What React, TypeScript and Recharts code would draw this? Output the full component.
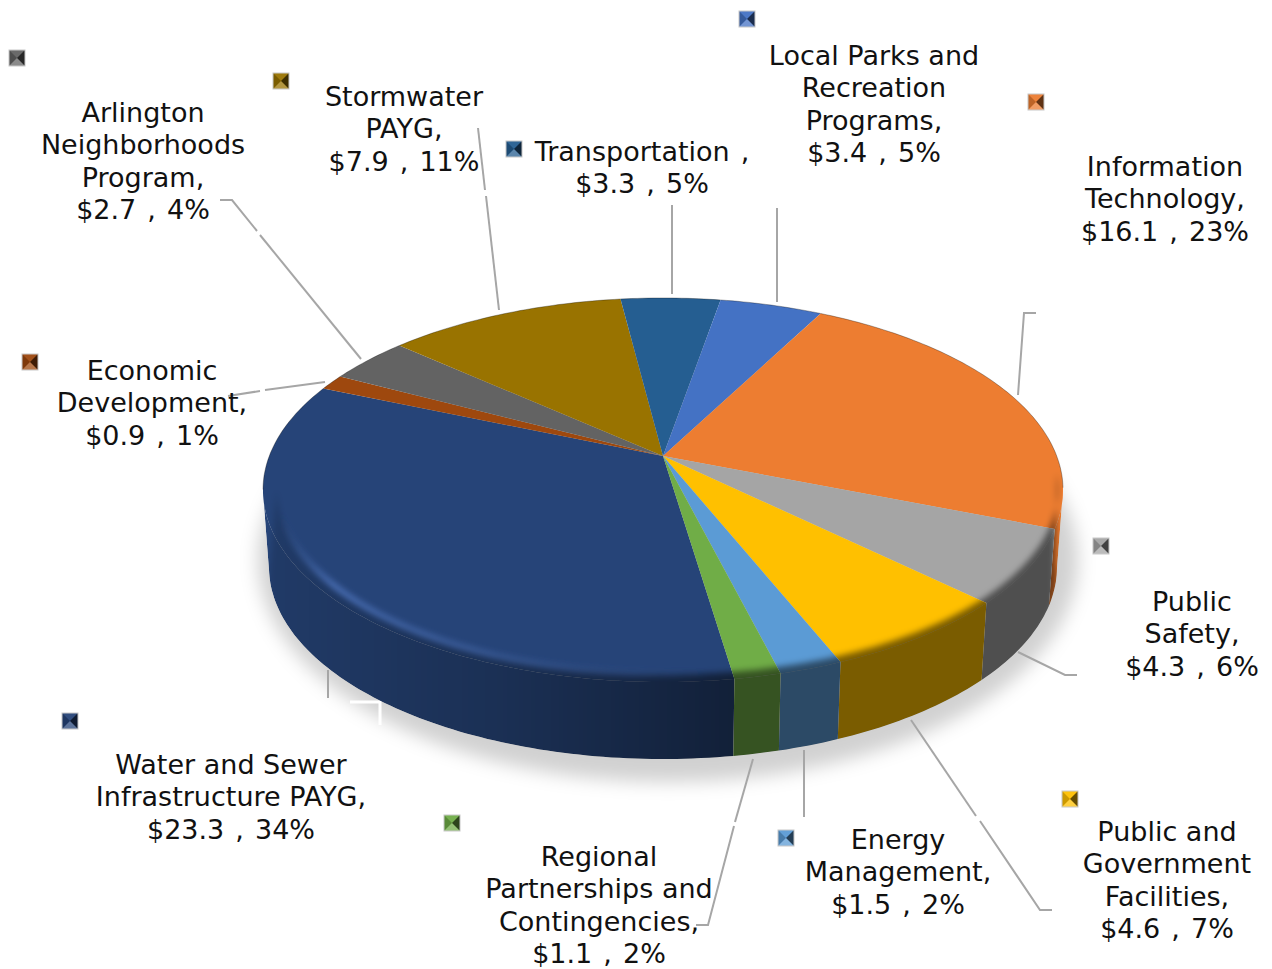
// App.tsx - 3D look pie of the capital program, drawn through Recharts sector angles
import { PieChart, Pie } from "recharts"

const NAMES = [
  "Water and Sewer Infrastructure PAYG",
  "Economic Development",
  "Arlington Neighborhoods Program",
  "Stormwater PAYG",
  "Transportation",
  "Local Parks and Recreation Programs",
  "Information Technology",
  "Public Safety",
  "Public and Government Facilities",
  "Energy Management",
  "Regional Partnerships and Contingencies",
]
const VALUES = [23.3, 0.9, 2.7, 7.9, 3.3, 3.4, 16.1, 4.3, 4.6, 1.5, 1.1]
const PERCENTS = [34, 1, 4, 11, 5, 5, 23, 6, 7, 2, 2]
const COLORS = ["#264478", "#9E480E", "#636363", "#997300", "#255E91", "#4472C4", "#ED7D31", "#A5A5A5", "#FFC000", "#5B9BD5", "#70AD47"]

// how the names wrap in the reference
const NAME_LINES = [
  ["Water and Sewer", "Infrastructure PAYG,"],
  ["Economic", "Development,"],
  ["Arlington", "Neighborhoods", "Program,"],
  ["Stormwater", "PAYG,"],
  ["Transportation ,"],
  ["Local Parks and", "Recreation", "Programs,"],
  ["Information", "Technology,"],
  ["Public", "Safety,"],
  ["Public and", "Government", "Facilities,"],
  ["Energy", "Management,"],
  ["Regional", "Partnerships and", "Contingencies,"],
]

// label centre x, first baseline y, legend key x, y
const LABEL_SPOTS = [
  [231, 774, 62, 713],
  [152, 380, 22, 354],
  [143, 122, 9, 50],
  [404, 106, 273, 73],
  [642, 161, 506, 141],
  [874, 65, 739, 11],
  [1165, 176, 1028, 94],
  [1192, 611, 1093, 538],
  [1167, 841, 1062, 791],
  [898, 849, 778, 830],
  [599, 866, 444, 815],
]

// leader lines, gaps in them are where the reference has them
const LEADERS: number[][][] = [
  [[328, 670, 328, 698]],
  [[228, 396, 260, 391], [265, 390, 325, 382]],
  [[220, 200, 232, 200, 257, 231], [260, 235, 361, 359]],
  [[478, 128, 485, 190], [486, 196, 499, 310]],
  [[672, 205, 672, 294]],
  [[777, 208, 777, 302]],
  [[1036, 313, 1024, 313, 1018, 395]],
  [[1018, 652, 1065, 675, 1077, 675]],
  [[911, 720, 976, 816], [980, 821, 1040, 910, 1052, 910]],
  [[804, 750, 804, 817]],
  [[753, 759, 735, 822], [734, 826, 708, 925, 696, 925]],
]

const chartData = NAMES.map((name, i) => ({ name, value: VALUES[i], fill: COLORS[i] }))

const TILT = 0.177
const FLATTEN = 0.4725
const WALL = 77
const WALL_SHRINK = 0.985
const BEVEL_LEFT = 0.965
const BEVEL_RIGHT = 0.988

function project(cx: number, cy: number, r: number, deg: number, k = 1) {
  const a = (deg * Math.PI) / 180
  const x = Math.cos(a)
  const y = -Math.sin(a)
  const w = 1 - TILT * y
  return {
    x: cx + (k * r * x) / w,
    y: cy + (k * r * FLATTEN * y) / w,
    near: y,
  }
}

// the soft edge of the top face sits further in on the left than on the right
function bevelPoint(cx: number, cy: number, r: number, d: number) {
  const side = Math.max(0, Math.cos((d * Math.PI) / 180))
  return project(cx, cy, r, d, BEVEL_LEFT + (BEVEL_RIGHT - BEVEL_LEFT) * side)
}

function arcAngles(start: number, end: number) {
  const out: number[] = []
  const n = Math.max(2, Math.ceil(Math.abs(end - start)))
  for (let i = 0; i <= n; i++) out.push(start + ((end - start) * i) / n)
  return out
}

const toPath = (pts: { x: number; y: number }[]) => pts.map((p, i) => `${i ? "L" : "M"}${p.x.toFixed(1)} ${p.y.toFixed(1)}`).join(" ")

function footPoint(cx: number, cy: number, r: number, d: number, extra = 0) {
  const p = project(cx, cy, r, d)
  return { x: cx + (p.x - cx) * WALL_SHRINK, y: p.y + WALL + extra, near: p.near }
}

function Slice(props: any) {
  const { cx, cy, outerRadius: r, startAngle, endAngle, fill, index } = props
  const angles = arcAngles(startAngle, endAngle)
  const rim = angles.map((d) => project(cx, cy, r, d))
  const top = `M${cx} ${cy} ${toPath(rim).replace("M", "L")} Z`
  const isFront = (d: number) => project(cx, cy, r, d).near >= TILT
  const frontAngles = angles.filter(isFront)
  const backRim = angles.filter((d) => !isFront(d)).map((d) => project(cx, cy, r, d))
  const hasWall = frontAngles.length > 1

  let silhouette = ""
  let shade = ""
  let bevelLine: { x: number; y: number }[] = []
  if (hasWall) {
    const foot = frontAngles.map((d) => footPoint(cx, cy, r, d)).reverse()
    silhouette = toPath([...frontAngles.map((d) => project(cx, cy, r, d)), ...foot]) + " Z"
    // the shade runs past the slice ends so the blur does not fade at the seams
    const dir = Math.sign(endAngle - startAngle)
    const wide = arcAngles(frontAngles[0] - 5 * dir, frontAngles[frontAngles.length - 1] + 5 * dir)
    bevelLine = frontAngles.map((d) => bevelPoint(cx, cy, r, d))
    shade =
      toPath([
        ...wide.map((d) => bevelPoint(cx, cy, r, d)),
        ...wide.map((d) => footPoint(cx, cy, r, d, 12)).reverse(),
      ]) + " Z"
  }
  const clip = `slice-${index}`
  return (
    <g>
      <clipPath id={clip}>
        <path d={top} />
        {hasWall && <path d={silhouette} />}
      </clipPath>
      <path d={top} fill={fill} />
      {hasWall && (
        <g clipPath={`url(#${clip})`}>
          <path d={silhouette} fill={fill} />
          <path d={shade} fill="url(#wallShade)" filter="url(#soft)" />
          <path d={toPath(bevelLine)} fill="none" stroke="url(#rimLight)" strokeWidth={4} filter="url(#soft)" />
        </g>
      )}
      {backRim.length > 1 && <path d={toPath(backRim)} fill="none" stroke="#000" strokeOpacity={0.3} strokeWidth={1} />}
    </g>
  )
}

function KeySquare({ x, y, color }: { x: number; y: number; color: string }) {
  const s = 16
  const mx = x + s / 2
  const my = y + s / 2
  return (
    <g>
      <rect x={x} y={y} width={s} height={s} fill={color} />
      <polygon points={`${x},${y} ${x + s},${y} ${mx},${my}`} fill="#fff" fillOpacity={0.05} />
      <polygon points={`${x},${y} ${mx},${my} ${x},${y + s}`} fill="#000" fillOpacity={0.2} />
      <polygon points={`${x + s},${y} ${mx},${my} ${x + s},${y + s}`} fill="#000" fillOpacity={0.6} />
      <polygon points={`${x},${y + s} ${mx},${my} ${x + s},${y + s}`} fill="#fff" fillOpacity={0.25} />
      <rect x={x} y={y} width={s} height={s} fill="none" stroke="#c8c8c8" strokeWidth={1} />
    </g>
  )
}

function SliceLabel(props: any) {
  const i = props.index
  const [tx, ty, kx, ky] = LABEL_SPOTS[i]
  const money = `$${VALUES[i]} , ${PERCENTS[i]}%`
  return (
    <g>
      {LEADERS[i].map((pts, j) => (
        <polyline key={j} points={pts.join(" ")} fill="none" stroke="#a6a6a6" strokeWidth={2} />
      ))}
      <KeySquare x={kx} y={ky} color={COLORS[i]} />
      <text textAnchor="middle" fontFamily="DejaVu Sans" fontSize={27} fill="#111">
        {[...NAME_LINES[i], money].map((line, j) => (
          <tspan key={j} x={tx} y={ty + j * 32.4} wordSpacing={line.includes(" ,") ? 2.5 : 0}>{line}</tspan>
        ))}
      </text>
    </g>
  )
}

export default function App() {
  return (
    <div style={{ position: "absolute", left: 0, top: 0, width: 1272, height: 969, background: "#fff" }}>
      <PieChart width={1272} height={969} margin={{ top: 0, right: 0, bottom: 0, left: 0 }}>
        <defs>
          <filter id="soft" x="-20%" y="-20%" width="140%" height="140%">
            <feGaussianBlur stdDeviation="3" />
          </filter>
          <filter id="shadowBlur" x="-10%" y="-20%" width="120%" height="140%">
            <feGaussianBlur stdDeviation="9" />
          </filter>
          <linearGradient id="wallShade" gradientUnits="userSpaceOnUse" x1="263" y1="0" x2="1063" y2="0">
            <stop offset="0" stopColor="#000" stopOpacity={0.14} />
            <stop offset="0.3" stopColor="#000" stopOpacity={0.3} />
            <stop offset="0.58" stopColor="#000" stopOpacity={0.52} />
            <stop offset="1" stopColor="#000" stopOpacity={0.52} />
          </linearGradient>
          <linearGradient id="rimLight" gradientUnits="userSpaceOnUse" x1="280" y1="0" x2="720" y2="0">
            <stop offset="0" stopColor="#5f8ade" stopOpacity={0} />
            <stop offset="0.12" stopColor="#5f8ade" stopOpacity={0.9} />
            <stop offset="1" stopColor="#5f8ade" stopOpacity={0} />
          </linearGradient>
        </defs>
        <ellipse cx={668} cy={560} rx={410} ry={222} fill="#000" fillOpacity={0.18} filter="url(#shadowBlur)" />
        <polyline points="350,702 380,702 380,725" fill="none" stroke="#fff" strokeWidth={3} />
        <Pie
          data={chartData}
          dataKey="value"
          nameKey="name"
          cx={663}
          cy={456}
          outerRadius={393.7}
          startAngle={-81.4}
          endAngle={-441.4}
          stroke="none"
          shape={Slice}
          label={SliceLabel}
          labelLine={false}
          isAnimationActive={false}
        />
      </PieChart>
    </div>
  )
}
